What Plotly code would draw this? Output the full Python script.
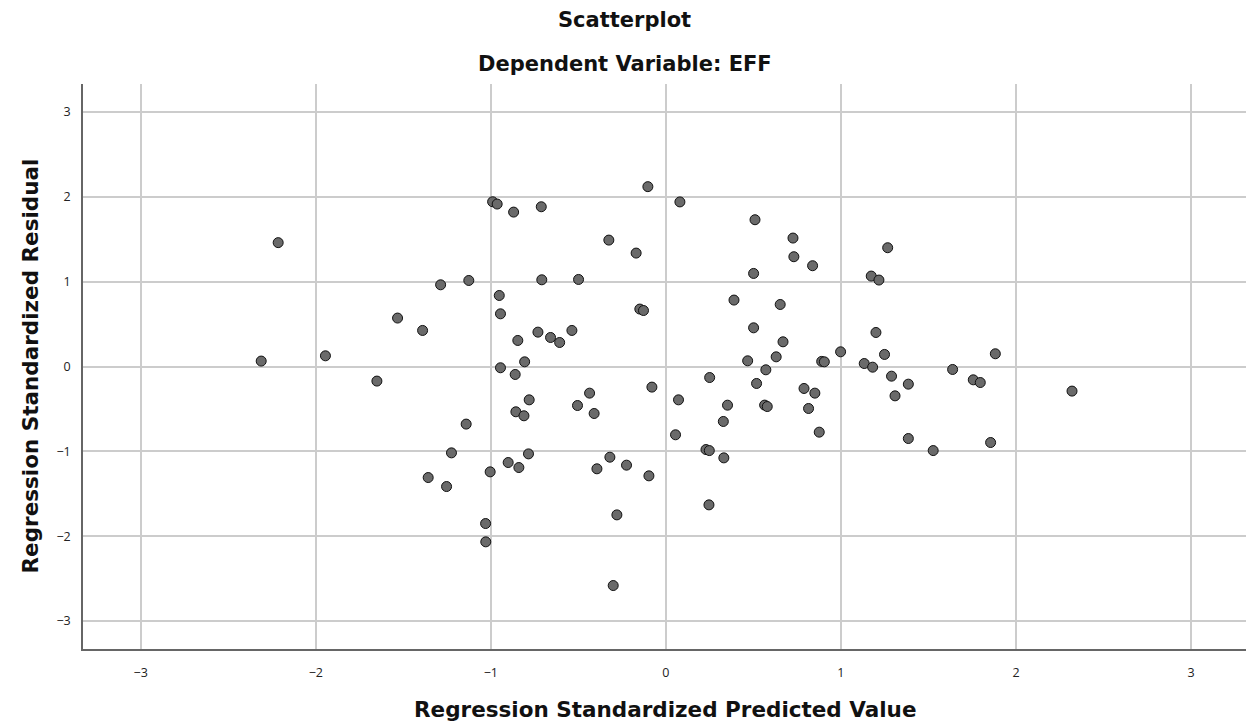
import plotly.graph_objects as go

predicted = [-2.312, -2.215, -1.945, -1.651, -1.533, -1.39, -1.358, -1.287, -1.253, -1.225,
             -1.141, -1.126, -1.03, -1.029, -1.004, -0.99, -0.964, -0.952, -0.945, -0.945,
             -0.901, -0.87, -0.861, -0.857, -0.846, -0.84, -0.811, -0.807, -0.785, -0.781,
             -0.731, -0.712, -0.709, -0.659, -0.607, -0.537, -0.505, -0.499, -0.436, -0.41,
             -0.394, -0.326, -0.32, -0.301, -0.28, -0.225, -0.17, -0.149, -0.128, -0.103,
             -0.097, -0.08, 0.055, 0.072, 0.08, 0.229, 0.248, 0.246, 0.25, 0.328,
             0.331, 0.352, 0.389, 0.467, 0.501, 0.501, 0.509, 0.518, 0.564, 0.571,
             0.579, 0.63, 0.653, 0.669, 0.726, 0.731, 0.789, 0.815, 0.838, 0.851,
             0.876, 0.89, 0.905, 0.998, 1.133, 1.173, 1.181, 1.2, 1.217, 1.249,
             1.267, 1.289, 1.309, 1.385, 1.385, 1.527, 1.638, 1.756, 1.796, 1.855,
             1.882, 2.32]
residual = [0.064, 1.46, 0.126, -0.172, 0.571, 0.425, -1.309, 0.963, -1.415, -1.018,
            -0.679, 1.014, -1.851, -2.067, -1.242, 1.942, 1.915, 0.837, 0.621, -0.015,
            -1.132, 1.82, -0.094, -0.534, 0.307, -1.191, -0.581, 0.055, -1.03, -0.393,
            0.405, 1.883, 1.022, 0.342, 0.283, 0.425, -0.46, 1.026, -0.314, -0.554,
            -1.206, 1.49, -1.069, -2.582, -1.749, -1.163, 1.337, 0.677, 0.66, 2.12,
            -1.289, -0.243, -0.805, -0.393, 1.94, -0.979, -0.991, -1.631, -0.13, -0.648,
            -1.077, -0.456, 0.783, 0.067, 1.097, 0.456, 1.73, -0.2, -0.455, -0.039,
            -0.472, 0.114, 0.731, 0.291, 1.514, 1.294, -0.259, -0.495, 1.188, -0.314,
            -0.774, 0.06, 0.055, 0.173, 0.035, 1.066, -0.008, 0.401, 1.019, 0.142,
            1.4, -0.114, -0.346, -0.208, -0.849, -0.991, -0.035, -0.157, -0.189, -0.896,
            0.15, -0.29]

tick_vals = [-3, -2, -1, 0, 1, 2, 3]
title_main = "Scatterplot"
title_sub = "Dependent Variable: EFF"
x_title = "Regression Standardized Predicted Value"
y_title = "Regression Standardized Residual"

fig = go.Figure()
fig.add_trace(go.Scatter(
    x=predicted, y=residual, mode="markers",
    marker=dict(size=10, color="#6a6a6a", line=dict(color="#111111", width=1)),
    showlegend=False, hoverinfo="x+y",
))

FONT = "DejaVu Sans"
TCOL = "#111111"
fig.update_layout(
    width=1246, height=724,
    margin=dict(l=83, r=0, t=84, b=75, autoexpand=False),
    paper_bgcolor="white", plot_bgcolor="white",
    font=dict(family=FONT, color="#222222"),
    annotations=[
        dict(text=f"<b>{title_main}</b>", xref="paper", yref="paper", x=0.466, y=1,
             xanchor="center", yanchor="middle", yshift=64, showarrow=False,
             font=dict(size=21, family=FONT, color=TCOL)),
        dict(text=f"<b>{title_sub}</b>", xref="paper", yref="paper", x=0.466, y=1,
             xanchor="center", yanchor="middle", yshift=20, showarrow=False,
             font=dict(size=21, family=FONT, color=TCOL)),
        dict(text=f"<b>{x_title}</b>", xref="paper", yref="paper", x=0.5, y=0,
             xanchor="center", yanchor="middle", yshift=-60, showarrow=False,
             font=dict(size=21.5, family=FONT, color=TCOL)),
        dict(text=f"<b>{y_title}</b>", xref="paper", yref="paper", x=0, y=0.5,
             xanchor="center", yanchor="middle", xshift=-53, textangle=-90, showarrow=False,
             font=dict(size=21.5, family=FONT, color=TCOL)),
    ],
)

fig.update_xaxes(
    range=[-3.33, 3.314], tickvals=tick_vals, showgrid=True, gridcolor="#cccccc", gridwidth=1.5,
    zeroline=False, showline=True, linecolor="#666666", linewidth=1.5, ticks="",
    tickfont=dict(size=12.5, color="#222222", family="Open Sans"), ticklabelstandoff=11,
    automargin=False,
)
fig.update_yaxes(
    range=[-3.33, 3.33], tickvals=tick_vals, showgrid=True, gridcolor="#cccccc", gridwidth=1.5,
    zeroline=False, showline=True, linecolor="#666666", linewidth=1.5, ticks="",
    tickfont=dict(size=12.5, color="#222222", family="Open Sans"), ticklabelstandoff=8,
    automargin=False,
)

fig.write_html(
    "out.html",
    config={"displayModeBar": False},
    post_script="document.body.style.margin='0';document.body.style.overflow='hidden';",
)
